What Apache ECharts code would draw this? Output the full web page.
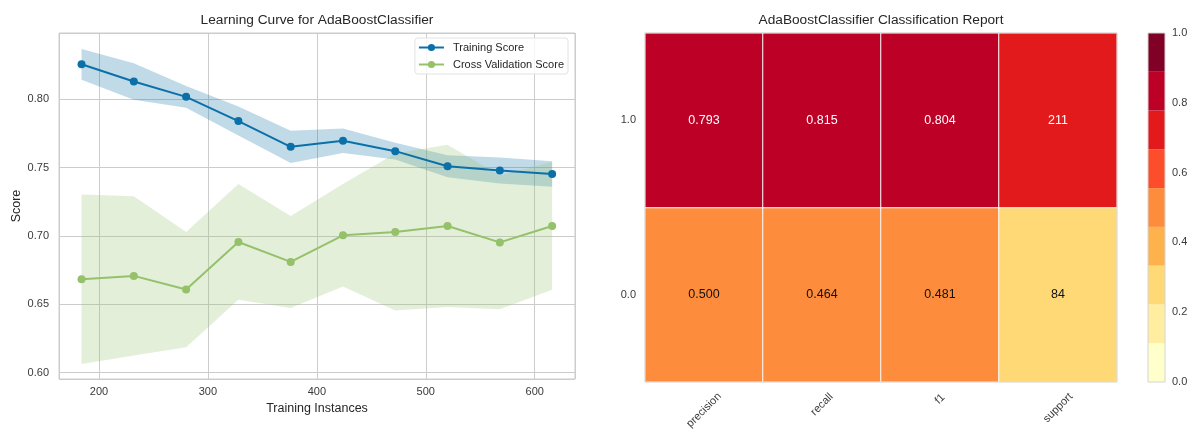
<!DOCTYPE html>
<html>
<head>
<meta charset="utf-8">
<script src="https://cdn.jsdelivr.net/npm/echarts@6/dist/echarts.min.js"></script>
<style>
  html, body { margin: 0; padding: 0; background: #ffffff; }
  #chart { width: 1192px; height: 429px; }
</style>
</head>
<body>
<div id="chart"></div>
<script>
// ---- Learning curve data ----
const trainSizes = [184, 232, 280, 328, 376, 424, 472, 520, 568, 616];
const trainMean  = [0.8255, 0.8129, 0.8017, 0.7840, 0.7652, 0.7696, 0.7620, 0.7510, 0.7478, 0.7453];
const trainStd   = [0.0112, 0.0133, 0.0080, 0.0106, 0.0118, 0.0089, 0.0061, 0.0080, 0.0095, 0.0094];
const cvMean     = [0.6683, 0.6708, 0.6608, 0.6956, 0.6810, 0.7005, 0.7029, 0.7073, 0.6953, 0.7073];
const cvStd      = [0.0620, 0.0582, 0.0421, 0.0423, 0.0336, 0.0375, 0.0574, 0.0593, 0.0489, 0.0467];

// ---- Classification report data ----
const classes   = ['0.0', '1.0'];               // bottom to top
const metrics   = ['precision', 'recall', 'f1', 'support'];
const precision = [0.500, 0.793];
const recall    = [0.464, 0.815];
const f1        = [0.481, 0.804];
const support   = [84, 211];
const colorbarTicks = [0.0, 0.2, 0.4, 0.6, 0.8, 1.0];

const FONT = '"Liberation Sans", Arial, sans-serif';
const TEXT = '#262626';
const TICK = '#3a3a3a';
const GRIDLINE = '#cccccc';
const BLUE = '#0b70a8';
const GREEN = '#94c16a';
const BLUE_BAND = 'rgba(11,112,168,0.26)';
const GREEN_BAND = 'rgba(148,193,106,0.25)';
const YLORRD = ['#ffffcc', '#ffeda0', '#fed976', '#feb24c', '#fd8d3c',
                '#fc4e2a', '#e31a1c', '#bd0026', '#800026'];

// text measuring for title centring and rotated tick label placement
const measureCtx = document.createElement('canvas').getContext('2d');
function textWidth(str, size) {
  measureCtx.font = size + 'px "Liberation Sans", Arial, sans-serif';
  return measureCtx.measureText(str).width;
}

// plot rectangles
const lc = { left: 59, top: 33, width: 516, height: 346 };
const hm = { left: 645, top: 33, width: 472, height: 349 };
const cb = { left: 1148, top: 33, width: 17, height: 349 };

const trainLow  = trainMean.map((m, i) => m - trainStd[i]);
const trainHigh = trainMean.map((m, i) => m + trainStd[i]);
const cvLow     = cvMean.map((m, i) => m - cvStd[i]);
const cvHigh    = cvMean.map((m, i) => m + cvStd[i]);
const pairs = (xs, ys) => xs.map((x, i) => [x, ys[i]]);

// shaded mean ± std band drawn as one polygon through the axis scales
function bandSeries(name, low, high, fill) {
  return {
    name: name, type: 'custom', xAxisIndex: 0, yAxisIndex: 0, silent: true, z: 1,
    data: trainSizes.map((x, i) => [x, low[i], high[i]]),
    encode: { x: 0, y: [1, 2] },
    renderItem: (params, api) => {
      if (params.dataIndex !== 0) return null;
      const upper = trainSizes.map((x, i) => api.coord([x, high[i]]));
      const lower = trainSizes.map((x, i) => api.coord([x, low[i]])).reverse();
      return {
        type: 'polygon',
        shape: { points: upper.concat(lower) },
        style: { fill: fill }
      };
    }
  };
}

// heatmap cells: [metric index, class index, colour value, shown text]
const metricValues = { precision, recall, f1, support };
const supportTotal = support.reduce((a, b) => a + b, 0);
const cells = [];
metrics.forEach((m, xi) => {
  classes.forEach((c, yi) => {
    const raw = metricValues[m][yi];
    const v = m === 'support' ? raw / supportTotal : raw;
    const shown = m === 'support' ? String(raw) : raw.toFixed(3);
    cells.push({
      value: [xi, yi, v, shown],
      label: { color: v > 0.5 ? '#ffffff' : '#111111' }
    });
  });
});

// rotated metric labels: each is centred under its column, lower for
// longer words, so the tops of the rotated boxes line up under the plot.
// The label anchor sits `labelMargin` below the plot; the text centre is
// pushed straight down by D using right padding (along the text) and
// line height (across the text).
const labelSize = 11;
const labelMargin = 8;
const labelWidths = metrics.map(m => textWidth(m, labelSize));
const minW = Math.min(...labelWidths);
const metricAxisData = metrics.map((m, i) => {
  const D = 9 + 0.32 * (labelWidths[i] - minW);
  const s = 1.414 * D;
  return {
    value: m,
    textStyle: {
      align: 'center', verticalAlign: 'top',
      lineHeight: s, padding: [0, s, 0, 0]
    }
  };
});

const pieces = YLORRD.map((c, i) => ({
  gte: i / YLORRD.length,
  lt: i === YLORRD.length - 1 ? 1.0001 : (i + 1) / YLORRD.length,
  color: c
}));

const title1 = 'Learning Curve for AdaBoostClassifier';
const title2 = 'AdaBoostClassifier Classification Report';
const titleSize = 13.7;

const chart = echarts.init(document.getElementById('chart'), null, { renderer: 'canvas' });

const option = {
  animation: false,
  backgroundColor: '#ffffff',
  textStyle: { fontFamily: FONT },
  title: [
    {
      text: title1, padding: 0, top: 13,
      left: lc.left + lc.width / 2 - textWidth(title1, titleSize) / 2,
      textStyle: { fontSize: titleSize, fontWeight: 'normal', color: TEXT, fontFamily: FONT }
    },
    {
      text: title2, padding: 0, top: 13,
      left: hm.left + hm.width / 2 - textWidth(title2, titleSize) / 2,
      textStyle: { fontSize: titleSize, fontWeight: 'normal', color: TEXT, fontFamily: FONT }
    }
  ],
  legend: {
    data: ['Training Score', 'Cross Validation Score'],
    orient: 'vertical',
    right: 1192 - 568,
    top: 38,
    itemWidth: 25,
    itemHeight: 9,
    itemGap: 6,
    padding: [4, 4, 4, 3],
    borderColor: '#e2e2e2',
    borderWidth: 1,
    borderRadius: 3,
    backgroundColor: 'rgba(255,255,255,0.8)',
    textStyle: { fontSize: 11, color: TEXT, fontFamily: FONT, padding: [0, 0, 0, 4] }
  },
  visualMap: {
    type: 'piecewise',
    show: false,
    dimension: 2,
    seriesIndex: 4,
    pieces: pieces
  },
  grid: [
    Object.assign({ show: true, borderColor: GRIDLINE, borderWidth: 1, z: 4, outerBoundsMode: 'none', containLabel: false }, lc),
    Object.assign({ show: true, borderColor: '#d4d4d4', borderWidth: 1, z: 5, outerBoundsMode: 'none', containLabel: false }, hm),
    Object.assign({ show: true, borderColor: '#d4d4d4', borderWidth: 1, z: 5, outerBoundsMode: 'none', containLabel: false }, cb)
  ],
  xAxis: [
    {
      gridIndex: 0, type: 'value', min: 163.3, max: 637,
      axisLine: { show: false }, axisTick: { show: false },
      splitLine: { show: true, lineStyle: { color: GRIDLINE, width: 1 } },
      axisLabel: {
        margin: 7, fontSize: 11, color: TICK, fontFamily: FONT,
        formatter: v => (Math.abs(v / 100 - Math.round(v / 100)) < 1e-6 ? String(Math.round(v)) : '')
      },
      name: 'Training Instances', nameLocation: 'middle', nameGap: 22,
      nameTextStyle: { fontSize: 12.5, color: TEXT, fontFamily: FONT }
    },
    {
      gridIndex: 1, type: 'category', data: metricAxisData,
      axisLine: { show: false }, axisTick: { show: false }, splitLine: { show: false },
      axisLabel: {
        rotate: 45, align: 'center', verticalAlign: 'top',
        margin: labelMargin, fontSize: labelSize, color: TICK, fontFamily: FONT, interval: 0
      }
    },
    {
      gridIndex: 2, type: 'category', data: ['scale'], show: false
    }
  ],
  yAxis: [
    {
      gridIndex: 0, type: 'value', min: 0.5954, max: 0.8484,
      axisLine: { show: false }, axisTick: { show: false },
      splitLine: { show: true, lineStyle: { color: GRIDLINE, width: 1 } },
      axisLabel: {
        margin: 10, fontSize: 11, color: TICK, fontFamily: FONT,
        formatter: v => (Math.abs(v / 0.05 - Math.round(v / 0.05)) < 1e-6 ? v.toFixed(2) : '')
      },
      name: 'Score', nameLocation: 'middle', nameGap: 36,
      nameTextStyle: { fontSize: 12.5, color: TEXT, fontFamily: FONT }
    },
    {
      gridIndex: 1, type: 'category', data: classes,
      axisLine: { show: false }, axisTick: { show: false }, splitLine: { show: false },
      axisLabel: { margin: 9, fontSize: 11, color: TICK, fontFamily: FONT }
    },
    {
      gridIndex: 2, type: 'value', min: 0, max: 1, interval: 0.2, position: 'right',
      axisLine: { show: false }, axisTick: { show: false }, splitLine: { show: false },
      axisLabel: {
        margin: 7, fontSize: 11, color: TICK, fontFamily: FONT,
        formatter: v => v.toFixed(1)
      }
    }
  ],
  series: [
    bandSeries('trainBand', trainLow, trainHigh, BLUE_BAND),
    bandSeries('cvBand', cvLow, cvHigh, GREEN_BAND),
    {
      name: 'Training Score', type: 'line', xAxisIndex: 0, yAxisIndex: 0,
      data: pairs(trainSizes, trainMean),
      symbol: 'circle', symbolSize: 8, showSymbol: true,
      lineStyle: { color: BLUE, width: 2 }, itemStyle: { color: BLUE }, z: 3
    },
    {
      name: 'Cross Validation Score', type: 'line', xAxisIndex: 0, yAxisIndex: 0,
      data: pairs(trainSizes, cvMean),
      symbol: 'circle', symbolSize: 8, showSymbol: true,
      lineStyle: { color: GREEN, width: 2 }, itemStyle: { color: GREEN }, z: 3
    },
    // classification report heatmap
    {
      name: 'report', type: 'heatmap', xAxisIndex: 1, yAxisIndex: 1,
      data: cells,
      itemStyle: { borderColor: '#ffffff', borderWidth: 1 },
      label: {
        show: true, fontSize: 12.5, fontFamily: FONT,
        formatter: p => p.value[3]
      },
      emphasis: { disabled: true }
    }
  ].concat(
    // colour bar: one stacked segment per colour band
    YLORRD.map((c, i) => ({
      name: 'scale' + i, type: 'bar', xAxisIndex: 2, yAxisIndex: 2, stack: 'scale',
      data: [1 / YLORRD.length], barWidth: '100%', silent: true,
      itemStyle: { color: c }
    }))
  )
};

chart.setOption(option);
</script>
</body>
</html>
